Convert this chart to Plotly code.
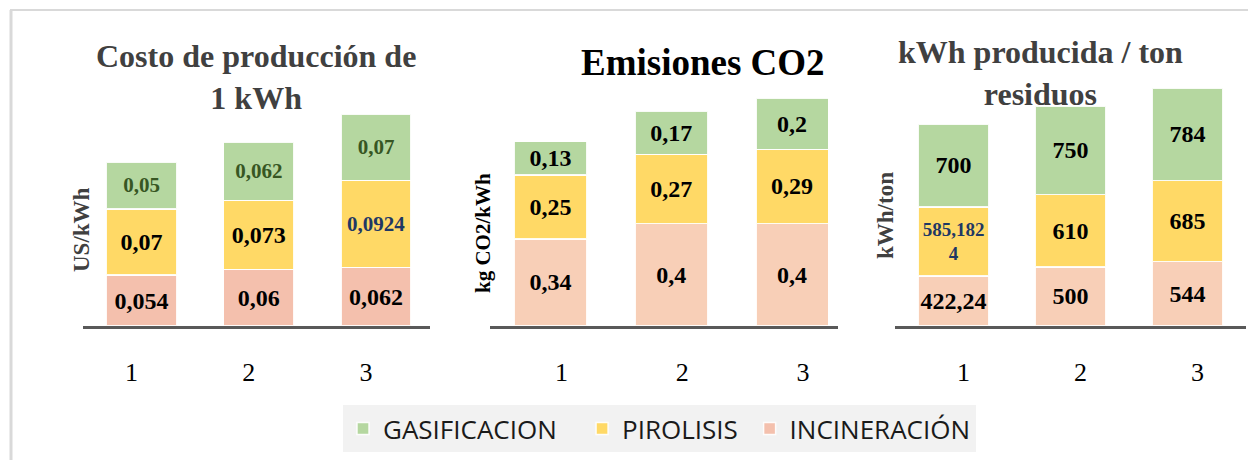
import plotly.graph_objects as go

# ---------------- data ----------------
categories = ["1", "2", "3"]
series_names = ["INCINERACIÓN", "PIROLISIS", "GASIFICACION"]

cost_incineracion = [0.054, 0.06, 0.062]
cost_pirolisis = [0.07, 0.073, 0.0924]
cost_gasificacion = [0.05, 0.062, 0.07]

co2_incineracion = [0.34, 0.4, 0.4]
co2_pirolisis = [0.25, 0.27, 0.29]
co2_gasificacion = [0.13, 0.17, 0.2]

kwh_incineracion = [422.24, 500, 544]
kwh_pirolisis = [585.1824, 610, 685]
kwh_gasificacion = [700, 750, 784]

titles = ["Costo de producción de<br>1 kWh", "Emisiones CO2", "kWh producida / ton<br>residuos"]
y_titles = ["US/kWh", "kg CO2/kWh", "kWh/ton"]

# ---------------- styling ----------------
W, H = 1248, 460
SERIF = "Liberation Serif"
GREEN = "#B5D7A0"
YELLOW = "#FFD966"
PINK1 = "#F4C0AD"
PINK2 = "#F8CFB7"
DARKGREEN = "#375623"
DARKBLUE = "#1F3864"
NB = "\u00a0"
legend_pad = {"GASIFICACION": NB * 3, "PIROLISIS": NB * 1, "INCINERACIÓN": ""}


def fx(p):
    return p / W


def fy(p):
    return 1 - p / H


def fmt(v, wrap=None):
    s = str(v).replace(".", ",")
    if wrap and len(s) > wrap:
        s = s[:wrap] + "<br>" + s[wrap:]
    return s


charts = [
    dict(data=[cost_incineracion, cost_pirolisis, cost_gasificacion],
         colors=[PINK1, YELLOW, GREEN],
         domain=(83, 430), xrange=(-0.5, 2.46), ymax=0.303, shift=-10,
         label_colors=[["black"] * 3, ["black", "black", DARKBLUE], [DARKGREEN] * 3],
         label_sizes=[[24] * 3, [24, 24, 21], [21] * 3],
         title_pos=(256, 77), title_color="#404040", title_size=32,
         yt_pos=(81, 230), yt_color="#404040", yt_size=23),
    dict(data=[co2_incineracion, co2_pirolisis, co2_gasificacion],
         colors=[PINK2, YELLOW, GREEN],
         domain=(490, 838), xrange=(-0.5, 2.38), ymax=1.117, shift=11,
         label_colors=[["black"] * 3] * 3,
         label_sizes=[[24] * 3] * 3,
         title_pos=(703, 63), title_color="black", title_size=37,
         yt_pos=(483, 233), yt_color="black", yt_size=21),
    dict(data=[kwh_incineracion, kwh_pirolisis, kwh_gasificacion],
         colors=[PINK2, YELLOW, GREEN],
         domain=(895, 1246), xrange=(-0.5, 2.5), ymax=2418, shift=10,
         label_colors=[["black"] * 3, [DARKBLUE, "black", "black"], ["black"] * 3],
         label_sizes=[[24] * 3, [19, 24, 24], [24] * 3],
         title_pos=(1040, 73), title_color="#404040", title_size=32,
         yt_pos=(886, 216), yt_color="#404040", yt_size=23),
]

fig = go.Figure()
annotations = []
layout_axes = {}

for i, ch in enumerate(charts):
    sfx = "" if i == 0 else str(i + 1)
    for j, (name, vals) in enumerate(zip(series_names, ch["data"])):
        fig.add_trace(go.Bar(
            x=categories, y=vals, name=name + legend_pad[name],
            xaxis="x" + sfx, yaxis="y" + sfx,
            marker=dict(color=ch["colors"][j], line=dict(color="rgba(255,255,255,0.9)", width=1.5)),
            text=[fmt(v, wrap=7) for v in vals],
            textposition="inside", insidetextanchor="middle", textangle=0,
            constraintext="none",
            textfont=dict(family=SERIF, size=ch["label_sizes"][j], color=ch["label_colors"][j], weight="bold"),
            showlegend=(i == 0), legendgroup=name, hoverinfo="skip",
        ))
    layout_axes["xaxis" + sfx] = dict(
        domain=[fx(ch["domain"][0]), fx(ch["domain"][1])], range=list(ch["xrange"]),
        type="category", anchor="y" + sfx,
        showline=True, linecolor="#595959", linewidth=3, showgrid=False, zeroline=False,
        ticks="", tickfont=dict(family=SERIF, size=26, color="black"),
        ticklabelstandoff=21, ticklabelshift=ch["shift"], fixedrange=True,
    )
    layout_axes["yaxis" + sfx] = dict(
        domain=[fy(326), fy(40)], range=[0, ch["ymax"]], anchor="x" + sfx,
        visible=False, fixedrange=True,
    )
    annotations.append(dict(
        text=titles[i], x=fx(ch["title_pos"][0]), y=fy(ch["title_pos"][1]),
        xref="paper", yref="paper", xanchor="center", yanchor="middle", showarrow=False,
        font=dict(family=SERIF, size=ch["title_size"], color=ch["title_color"], weight="bold"),
    ))
    annotations.append(dict(
        text=y_titles[i], x=fx(ch["yt_pos"][0]), y=fy(ch["yt_pos"][1]),
        xref="paper", yref="paper", xanchor="center", yanchor="middle", showarrow=False,
        textangle=-90,
        font=dict(family=SERIF, size=ch["yt_size"], color=ch["yt_color"], weight="bold"),
    ))

fig.update_layout(
    width=W, height=H,
    margin=dict(l=0, r=0, t=0, b=0),
    paper_bgcolor="white", plot_bgcolor="rgba(0,0,0,0)",
    barmode="stack", bargap=0.4,
    showlegend=True,
    legend=dict(
        orientation="h", traceorder="reversed",
        x=fx(343), y=fy(405), xanchor="left", yanchor="top",
        bgcolor="#F2F2F2", borderwidth=0,
        font=dict(family="Open Sans", size=26, color="#1a1a1a"),
    ),
    annotations=annotations,
    shapes=[
        dict(type="line", xref="paper", yref="paper", x0=fx(10), x1=1, y0=fy(10), y1=fy(10),
             line=dict(color="#D9D9D9", width=2)),
        dict(type="line", xref="paper", yref="paper", x0=fx(11), x1=fx(11), y0=fy(10), y1=0,
             line=dict(color="#D9D9D9", width=3)),
    ],
    **layout_axes,
)

fig.write_html("out.html", config={"displayModeBar": False},
               post_script="document.body.style.margin='0';")
